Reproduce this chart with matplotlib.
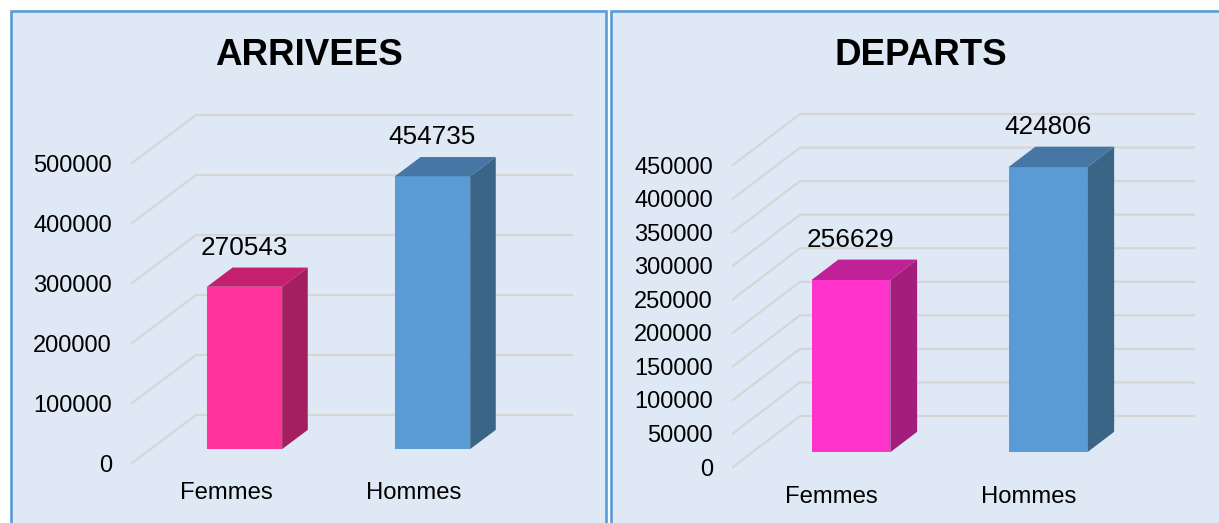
import matplotlib
matplotlib.use("Agg")
import matplotlib.pyplot as plt
import matplotlib.transforms as mtransforms
from matplotlib.patches import Polygon, Rectangle
import numpy as np

plt.rcParams['font.family'] = ['Liberation Sans', 'DejaVu Sans']

# data
categories = ['Femmes', 'Hommes']
arrivees = [270543, 454735]
departs = [256629, 424806]
titles = ['ARRIVEES', 'DEPARTS']

W, H = 1219, 523
BG = '#DEE9F5'
BORDER = '#5B9BD5'
GRID = '#D6D6D6'

fig = plt.figure(figsize=(W / 100, H / 100), dpi=100)
fig.patch.set_facecolor('white')


def fx(px):
    return px / W


def fy(py):
    # image y (top down) -> figure fraction
    return 1 - py / H


# panel frames (behind the axes)
for x0, x1 in [(10.5, 606), (611, 1225)]:
    fig.patches.append(Rectangle((fx(x0), fy(540)), fx(x1 - x0), (540 - 10.5) / H,
                                 transform=fig.transFigure, facecolor=BG,
                                 edgecolor=BORDER, linewidth=1.9, zorder=-1))


def panel(rect, values, ymax, step, depth, colors, title, title_x):
    left, top_px, width_px, bottom_px = rect
    ax = fig.add_axes([fx(left), fy(bottom_px), fx(width_px), (bottom_px - top_px) / H])
    ax.set_facecolor('none')
    for s in ax.spines.values():
        s.set_visible(False)
    ax.set_xlim(-0.5, 1.5)
    ax.set_ylim(0, ymax)
    ticks = np.arange(0, ymax + 1, step)
    ax.set_yticks(ticks)
    ax.set_yticklabels([str(int(t)) for t in ticks])
    ax.set_xticks(range(len(categories)))
    ax.set_xticklabels(categories)
    ax.tick_params(axis='y', length=0, pad=14.4, labelsize=17)
    ax.tick_params(axis='x', length=0, pad=13.5, labelsize=17.2)

    DX, DY = depth
    d1, d2 = 0.29, 0.69
    ident = mtransforms.IdentityTransform()

    def proj(x, v, d):
        px, py = ax.transData.transform((x, v))
        return (px + d * DX, py + d * DY)

    # back wall grid + diagonals on the left
    for t in ticks:
        a = proj(-0.5, t, 0)
        b = proj(-0.5, t, 1)
        c = proj(1.5, t, 1)
        ax.add_artist(plt.Line2D([a[0], b[0], c[0]], [a[1], b[1], c[1]],
                                 transform=ident, color=GRID, lw=1.6,
                                 clip_on=False, zorder=1))

    bw = 0.4
    bars = ax.bar(range(len(values)), values, width=bw, zorder=3)
    off = mtransforms.offset_copy(ax.transData, fig=fig, x=d1 * DX, y=d1 * DY, units='dots')
    for i, (b, v) in enumerate(zip(bars, values)):
        front, side, topc = colors[i]
        b.set_transform(off)
        b.set_facecolor(front)
        b.set_edgecolor('none')
        b.set_clip_on(False)
        x0, x1 = i - bw / 2, i + bw / 2
        top = [proj(x0, v, d1), proj(x1, v, d1), proj(x1, v, d2), proj(x0, v, d2)]
        sidev = [proj(x1, 0, d1), proj(x1, v, d1), proj(x1, v, d2), proj(x1, 0, d2)]
        ax.add_artist(Polygon(sidev, closed=True, transform=ident, facecolor=side,
                              edgecolor='none', clip_on=False, zorder=3))
        ax.add_artist(Polygon(top, closed=True, transform=ident, facecolor=topc,
                              edgecolor='none', clip_on=False, zorder=3))
        ax.annotate(str(v), xy=(i, v), xycoords='data', textcoords='offset pixels',
                    xytext=(d1 * DX, d2 * DY + 20), ha='center', va='center',
                    fontsize=18.8, color='black', annotation_clip=False, zorder=4)

    fig.text(fx(title_x), fy(65), title, ha='center', va='baseline',
             fontsize=26.5, fontweight='bold', color='black')
    return ax


panel((132, 163, 376, 463), arrivees, 500000, 100000, (64, 48),
      [('#FF3399', '#A31F5F', '#C4206F'), ('#5B9BD5', '#3A6587', '#4676A3')],
      titles[0], 309)
panel((733, 165, 394, 467), departs, 450000, 50000, (67, 51),
      [('#FF33CC', '#A31D7B', '#C12197'), ('#5B9BD5', '#3A6587', '#4676A3')],
      titles[1], 921)

fig.savefig('out.png', dpi=100, facecolor='white')
